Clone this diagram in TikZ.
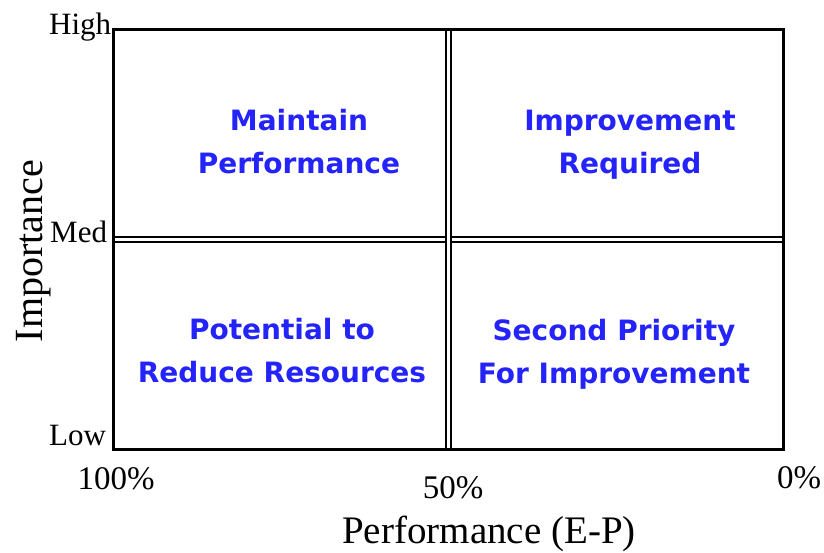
\documentclass[tikz,border=0pt]{standalone}
\usepackage{fontspec}
\setmainfont{Liberation Serif}
\newfontfamily\quadfont{DejaVu Sans}
\usetikzlibrary{positioning}
\definecolor{quadblue}{RGB}{35,35,250}

\begin{document}
\begin{tikzpicture}[x=1pt,y=-1pt, every node/.style={inner sep=0pt},
  level/.style={font=\fontsize{31}{36}\selectfont,anchor=base west},
  tick/.style={font=\fontsize{33}{38}\selectfont,anchor=base},
  quad/.style={font=\quadfont\bfseries\fontsize{28}{43}\selectfont,text=quadblue,align=center},
  divider/.style={double,line width=2pt,double distance=2.5pt}]
\useasboundingbox (0,0) rectangle (824,553);
\node[minimum width=670pt,minimum height=419pt,anchor=north west] (grid) at (113.5,30) {};
\draw[divider] (grid.west)--(grid.east);
\draw[divider] (grid.north)--(grid.south);
\draw[line width=3pt] (grid.north west) rectangle (grid.south east);
% quadrant texts
\node[quad] (maintain) at (299,142) {Maintain\\Performance};
\node[quad] (improve) at (630,145) {Improvement\\Required};
\node[quad] (reduce) at (282,351) {Potential to\\Reduce Resources};
\node[quad] (second) at (614,354) {Second Priority\\For Improvement};
% axes
\node[level] (high) at (49,35) {High};
\node[level] (med) at (50,243) {Med};
\node[level] (low) at (49,445) {Low};
\node[tick] (full) at (116,489) {100\%};
\node[tick] (half) at (453,498) {50\%};
\node[tick] (none) at (799,488) {0\%};
\node[anchor=base,font=\fontsize{39}{45}\selectfont] (xlabel) at (489,543) {Performance (E-P)};
\node[rotate=90,anchor=base,font=\fontsize{40}{46}\selectfont] (ylabel) at (42,251) {Importance};
\end{tikzpicture}
\end{document}
